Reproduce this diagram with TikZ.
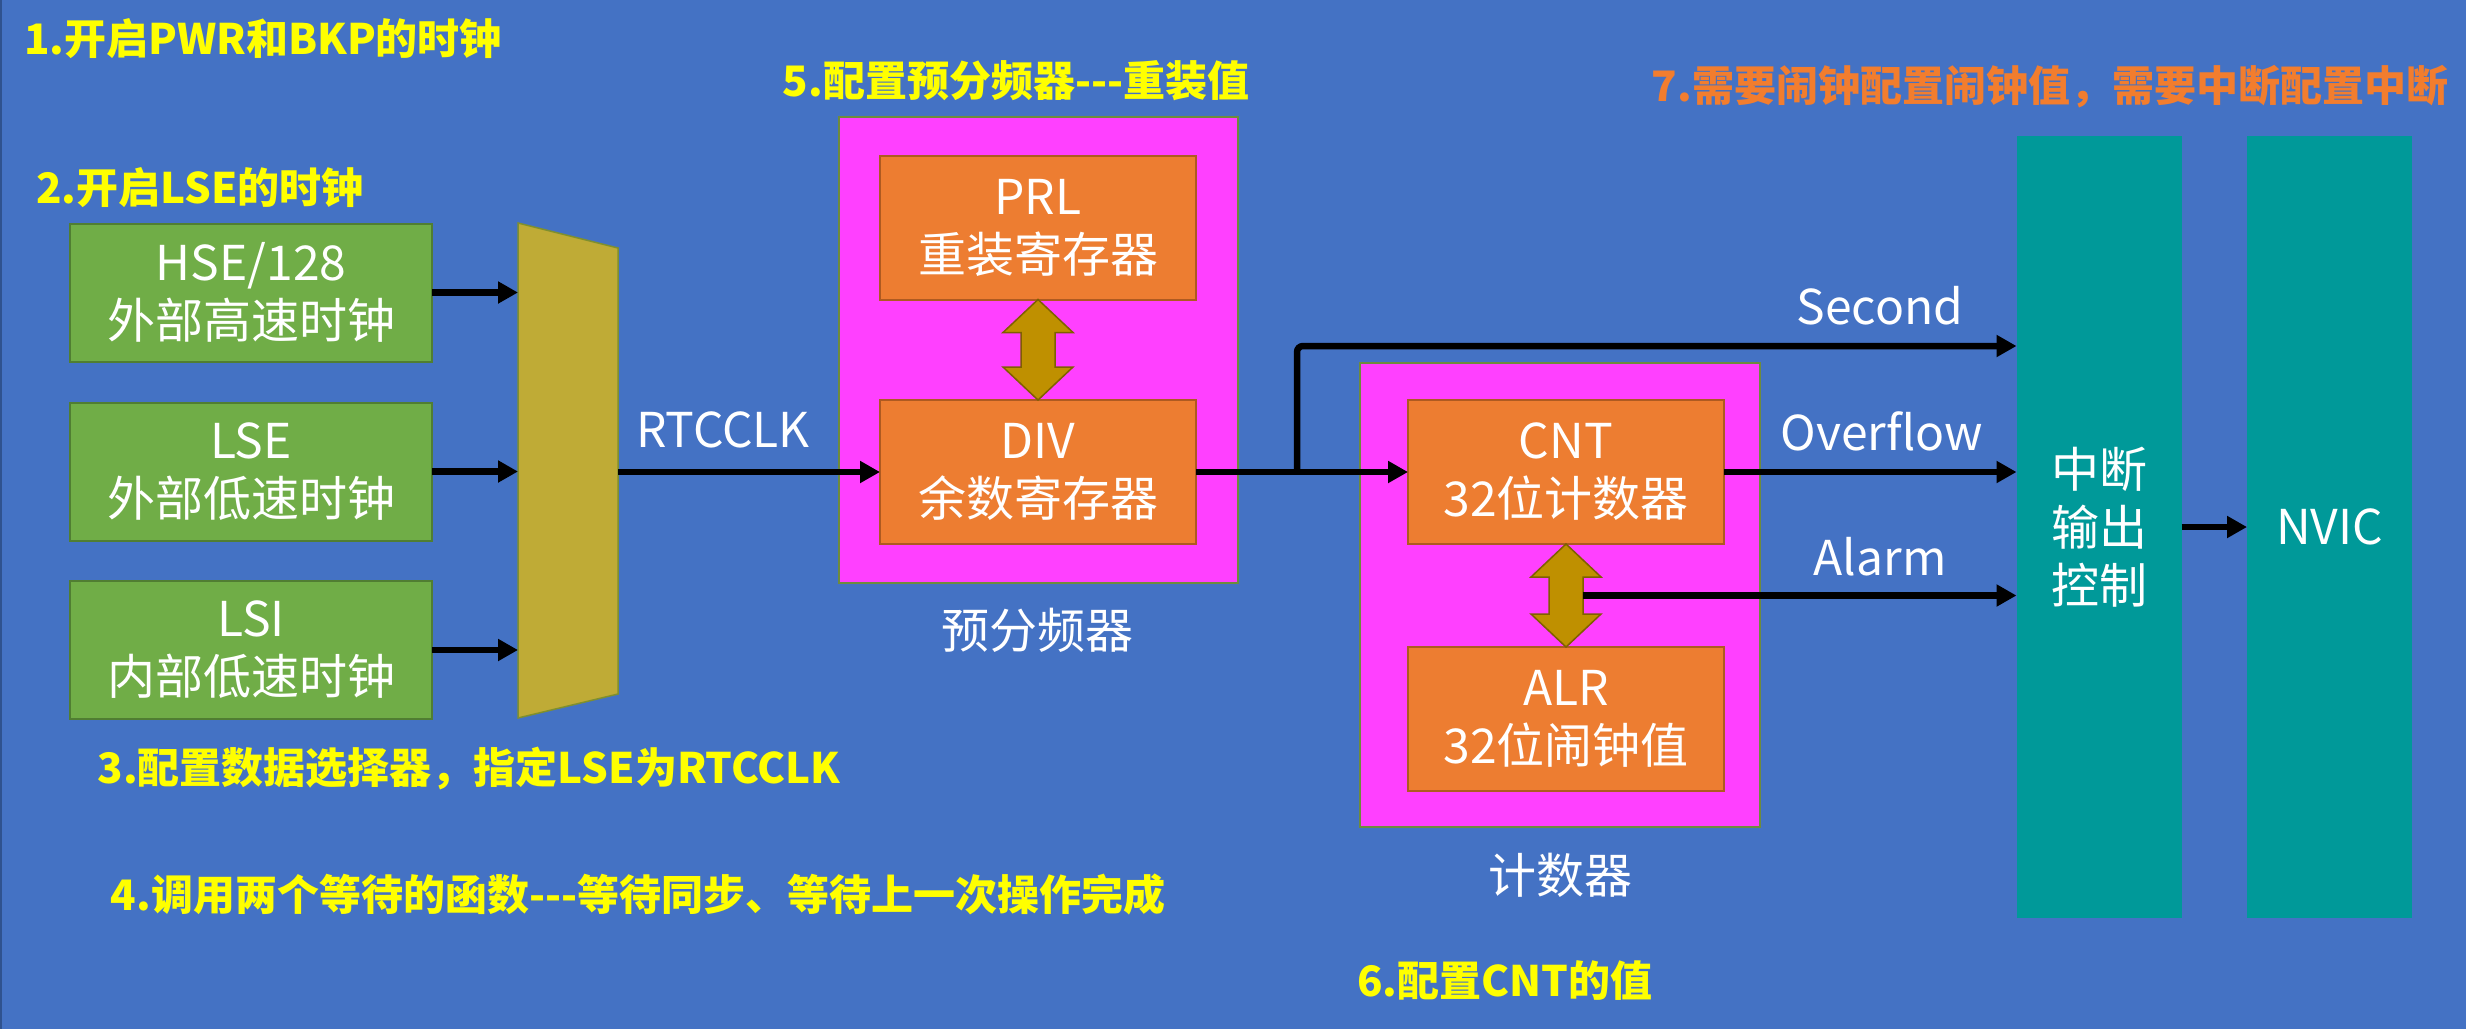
\documentclass[tikz,border=0pt]{standalone}
\usepackage{fontspec}
\setmainfont{Noto Sans CJK SC}
\usetikzlibrary{arrows.meta,calc}

\definecolor{bg}{HTML}{4472C4}
\definecolor{bgedge}{HTML}{2F528F}
\definecolor{srcgreen}{HTML}{70AD47}
\definecolor{srcgreenline}{HTML}{507E32}
\definecolor{regorange}{HTML}{ED7D31}
\definecolor{regorangeline}{HTML}{AE5A21}
\definecolor{groupmag}{HTML}{FF40FF}
\definecolor{groupline}{HTML}{6E8B3D}
\definecolor{muxfill}{HTML}{BFAB36}
\definecolor{muxline}{HTML}{7F8F2F}
\definecolor{linkfill}{HTML}{BF9000}
\definecolor{linkline}{HTML}{7F6000}
\definecolor{irqteal}{HTML}{009999}
\definecolor{stepyellow}{HTML}{FFFF00}
\definecolor{steporange}{HTML}{F27D2E}

% double-headed block arrow between the bottom of #1 and the top of #2
\newcommand\linkarrow[2]{%
  \draw[link] (#1.south) -- ($(#1.south)+(35,33)$) -- ($(#1.south)+(17,33)$)
    -- ($(#2.north)+(17,-33)$) -- ($(#2.north)+(35,-33)$) -- (#2.north)
    -- ($(#2.north)+(-35,-33)$) -- ($(#2.north)+(-17,-33)$)
    -- ($(#1.south)+(-17,33)$) -- ($(#1.south)+(-35,33)$) -- cycle;}
% three hyphens kept apart so they are not joined into a dash
\newcommand\tripledash{-{}-{}-}

\begin{document}
\begin{tikzpicture}[x=1pt,y=-1pt,
  box/.style={rectangle, inner sep=0pt, outer sep=0pt, align=center, text=white,
    font=\fontsize{48}{58}\selectfont, line width=2pt},
  srcbox/.style={box, fill=srcgreen, draw=srcgreenline, minimum width=362, minimum height=138},
  regbox/.style={box, fill=regorange, draw=regorangeline, minimum width=316, minimum height=144},
  groupbox/.style={rectangle, inner sep=0pt, outer sep=0pt, fill=groupmag, draw=groupline,
    line width=1.5pt, minimum width=400, minimum height=465},
  irqbox/.style={box, fill=irqteal, minimum width=165, minimum height=782},
  lbl/.style={inner sep=0pt, text=white, font=\fontsize{48}{58}\selectfont},
  note/.style={inner sep=0pt, text=stepyellow, font=\fontsize{42}{50}\selectfont\bfseries},
  wire/.style={line width=6.5pt, black},
  sig/.style={wire, -{Triangle[length=20pt,width=21pt]}},
  link/.style={fill=linkfill, draw=linkline, line width=1.5pt, line join=miter},
]
% canvas
\fill[bg] (0,0) rectangle (2466,1029);
\useasboundingbox (0,0) rectangle (2466,1029);
\draw[bgedge, line width=3pt] (0,0) -- (0,1029);

% clock sources
\node[srcbox] (hse) at (251,292.5) {HSE/128\\外部高速时钟};
\node[srcbox] (lse) at (251,471.5) {LSE\\外部低速时钟};
\node[srcbox] (lsi) at (251,650) {LSI\\内部低速时钟};

% clock selector
\draw[fill=muxfill, draw=muxline, line width=1.5pt]
  (518,223) -- (618,248) -- (618,694) -- (518,718) -- cycle;
\coordinate (muxin) at (518,470);
\coordinate (muxout) at (618,472);

% prescaler group
\node[groupbox, minimum width=399, minimum height=466] (pre) at (1038.5,350) {};
\node[regbox] (prl) at (1038,227.5) {PRL\\重装寄存器};
\node[regbox] (div) at (1038,472) {DIV\\余数寄存器};
\node[lbl] (prelbl) at (1037,630) {预分频器};

% counter group
\node[groupbox, minimum width=400, minimum height=464] (cntgrp) at (1560,595) {};
\node[regbox] (cnt) at (1566,472) {CNT\\32位计数器};
\node[regbox] (alr) at (1566,719) {ALR\\32位闹钟值};
\node[lbl] (cntlbl) at (1560,875) {计数器};

% interrupt path
\node[irqbox] (irq) at (2099,527) {中断\\输出\\控制};
\node[irqbox] (nvic) at (2329.5,527) {NVIC};

% register links
\linkarrow{prl}{div}
\linkarrow{cnt}{alr}

% signals
\draw[sig] (hse.east) -- (hse.east -| muxin);
\draw[sig] (lse.east) -- (lse.east -| muxin);
\draw[sig] (lsi.east) -- (lsi.east -| muxin);
\draw[sig] (muxout) -- (div.west);
\node[lbl] (rtcclk) at (723,430) {RTCCLK};

\draw[sig] (div.east) -- (cnt.west);
\coordinate (split) at (1297,472);
\coordinate (secrow) at (0,346);
\draw[sig, rounded corners=6pt] (split) |- (irq.west |- secrow);
\node[lbl] (second) at (1880,306) {Second};

\draw[sig] (cnt.east) -- (cnt.east -| irq.west);
\node[lbl] (overflow) at (1882,431) {Overflow};

\coordinate (alrtap) at ($(cnt.south)!0.5!(alr.north)+(17,0)$);
\draw[sig] (alrtap) -- (alrtap -| irq.west);
\node[lbl] (alarm) at (1880,557) {Alarm};

\draw[sig] (irq.east) -- (nvic.west);

% configuration steps
\node[note] (s1) at (263,39) {1.开启PWR和BKP的时钟};
\node[note] (s2) at (200,188) {2.开启LSE的时钟};
\node[note] (s3) at (469,769) {3.配置数据选择器，指定LSE为RTCCLK};
\node[note] (s4) at (638,894) {4.调用两个等待的函数\tripledash 等待同步、等待上一次操作完成};
\node[note] (s5) at (1016,81) {5.配置预分频器\tripledash 重装值};
\node[note] (s6) at (1505,981) {6.配置CNT的值};
\node[note, text=steporange] (s7) at (2050,87) {7.需要闹钟配置闹钟值，需要中断配置中断};
\end{tikzpicture}
\end{document}
